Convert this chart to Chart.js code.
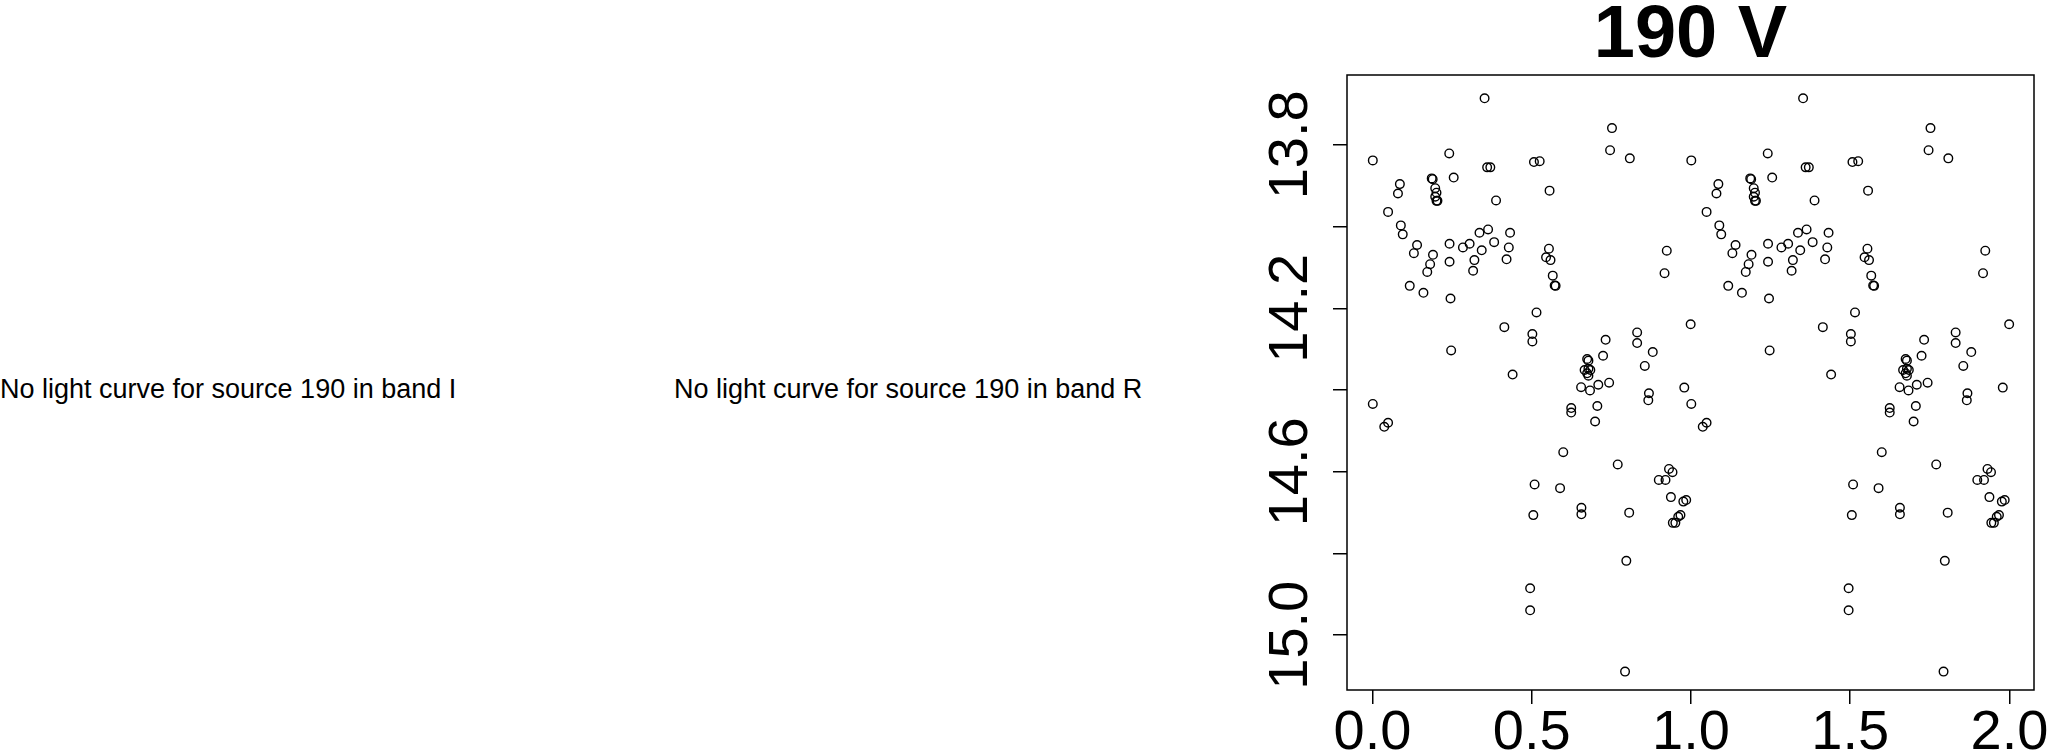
<!DOCTYPE html>
<html>
<head>
<meta charset="utf-8">
<script src="https://cdn.jsdelivr.net/npm/chart.js@4/dist/chart.umd.min.js"></script>
<style>
  body { margin: 0; background: #fff; width: 2051px; height: 751px; overflow: hidden; position: relative; font-family: "Liberation Sans", Arial, sans-serif; }
  .nolc { position: absolute; top: 376px; font-size: 27px; line-height: 27px; color: #000; white-space: nowrap; }
  #wrap { position: absolute; left: 1200px; top: 0; width: 851px; height: 751px; }
</style>
</head>
<body>
<div class="nolc" id="msgI" style="left:0px"></div>
<div class="nolc" id="msgR" style="left:674px"></div>
<div id="wrap"><canvas id="lc" width="851" height="751"></canvas></div>
<script>
// source 190, band V, folded light curve (phase 0..1, drawn twice)
const source = '190';
const band = 'V';
const emptyBands = ['I', 'R'];

const phase = [
  0.001, 0.352, 0.752, 0.746, 0.808, 0.241, 0.360, 0.370, 0.507, 0.525,
  0.086, 0.080, 0.049, 0.186, 0.189, 0.197, 0.201, 0.197, 0.201, 0.204,
  0.255, 0.388, 0.556, 0.089, 0.095, 0.140, 0.130, 0.190, 0.181, 0.172,
  0.117, 0.160, 0.242, 0.242, 0.245, 0.284, 0.305, 0.336, 0.363, 0.343,
  0.320, 0.316, 0.382, 0.432, 0.428, 0.421, 0.554, 0.545, 0.559, 0.566,
  0.572, 0.575, 0.924, 0.917, 0.515, 0.414, 0.502, 0.502, 0.247, 0.440,
  0.732, 0.831, 0.831, 0.880, 0.855, 0.724, 0.674, 0.678, 0.666, 0.678,
  0.684, 0.674, 0.678, 0.999, 0.001, 0.049, 0.037, 0.655, 0.683, 0.709,
  0.743, 0.868, 0.866, 0.979, 0.624, 0.624, 0.706, 0.699, 0.599, 0.770,
  0.509, 0.589, 0.656, 0.656, 0.505, 0.806, 0.931, 0.942, 0.899, 0.920,
  0.937, 0.976, 0.985, 0.967, 0.960, 0.951, 0.943, 0.797, 0.495, 0.495,
  0.793
];
const mag = [
  13.838, 13.686, 13.759, 13.813, 13.833, 13.821, 13.855, 13.855, 13.842, 13.840,
  13.896, 13.919, 13.964, 13.882, 13.884, 13.906, 13.917, 13.927, 13.937, 13.937,
  13.880, 13.936, 13.912, 13.997, 14.019, 14.045, 14.065, 14.069, 14.092, 14.111,
  14.145, 14.162, 14.042, 14.086, 14.176, 14.051, 14.042, 14.015, 14.007, 14.058,
  14.082, 14.108, 14.038, 14.015, 14.051, 14.080, 14.054, 14.075, 14.082, 14.120,
  14.144, 14.145, 14.059, 14.114, 14.210, 14.246, 14.263, 14.281, 14.303, 14.362,
  14.277, 14.259, 14.285, 14.307, 14.341, 14.316, 14.324, 14.328, 14.351, 14.348,
  14.351, 14.359, 14.365, 14.239, 14.434, 14.480, 14.490, 14.393, 14.401, 14.387,
  14.382, 14.408, 14.425, 14.394, 14.444, 14.455, 14.439, 14.477, 14.552, 14.582,
  14.631, 14.640, 14.688, 14.704, 14.706, 14.700, 14.593, 14.601, 14.620, 14.620,
  14.662, 14.673, 14.669, 14.706, 14.710, 14.725, 14.725, 14.818, 14.885, 14.939,
  15.089
];

const xTicks = [0, 0.5, 1, 1.5, 2];
const yTicks = [13.8, 14.0, 14.2, 14.4, 14.6, 14.8, 15.0];
const yTickLabels = ['13.8', '', '14.2', '', '14.6', '', '15.0'];

emptyBands.forEach(b => {
  document.getElementById('msg' + b).textContent = 'No light curve for source ' + source + ' in band ' + b;
});

// two cycles: phase and phase + 1
const points = phase.map((p, i) => ({ x: p, y: mag[i] }))
  .concat(phase.map((p, i) => ({ x: p + 1, y: mag[i] })));

const FONT = 'Liberation Sans, Arial, sans-serif';

// R style box around the plot region
const boxPlugin = {
  id: 'box',
  afterDraw(chart) {
    const a = chart.chartArea;
    const c = chart.ctx;
    c.save();
    c.strokeStyle = '#000';
    c.lineWidth = 1.5;
    c.strokeRect(a.left, a.top, a.right - a.left, a.bottom - a.top);
    c.restore();
  }
};

const ctx = document.getElementById('lc').getContext('2d');
const lc = new Chart(ctx, {
  type: 'scatter',
  data: {
    datasets: [{
      data: points,
      pointStyle: 'circle',
      pointRadius: 4.3,
      pointBorderWidth: 1.4,
      pointBorderColor: '#000',
      pointBackgroundColor: 'rgba(0,0,0,0)',
      showLine: false
    }]
  },
  options: {
    responsive: false,
    animation: false,
    devicePixelRatio: 1,
    layout: { padding: { left: 0, right: 17, top: 0, bottom: 0 } },
    plugins: {
      legend: { display: false },
      tooltip: { enabled: false },
      title: {
        display: true,
        fullSize: false,
        text: source + ' ' + band,
        color: '#000',
        font: { family: FONT, size: 74, weight: 'bold', lineHeight: 1 },
        padding: { top: 0, bottom: 1 }
      }
    },
    scales: {
      x: {
        type: 'linear',
        min: -0.08,
        max: 2.077,
        afterBuildTicks: s => { s.ticks = xTicks.map(v => ({ value: v })); },
        afterFit: s => { s.height = 61; },
        border: { display: false },
        grid: { drawOnChartArea: false, drawTicks: true, tickLength: 14, color: '#000', lineWidth: 1.5 },
        ticks: {
          color: '#000',
          font: { family: FONT, size: 56 },
          padding: -4,
          maxRotation: 0,
          autoSkip: false,
          callback: v => v.toFixed(1)
        }
      },
      y: {
        type: 'linear',
        reverse: true,
        min: 13.629,
        max: 15.134,
        afterBuildTicks: s => { s.ticks = yTicks.map(v => ({ value: v })); },
        afterFit: s => { s.width = 147; },
        border: { display: false },
        grid: { drawOnChartArea: false, drawTicks: true, tickLength: 14, color: '#000', lineWidth: 1.5 },
        ticks: {
          color: '#000',
          font: { family: FONT, size: 56 },
          minRotation: 90,
          maxRotation: 90,
          crossAlign: 'center',
          padding: -13,
          autoSkip: false,
          callback: (v, i) => yTickLabels[i]
        }
      }
    }
  },
  plugins: [boxPlugin]
});
</script>
</body>
</html>
